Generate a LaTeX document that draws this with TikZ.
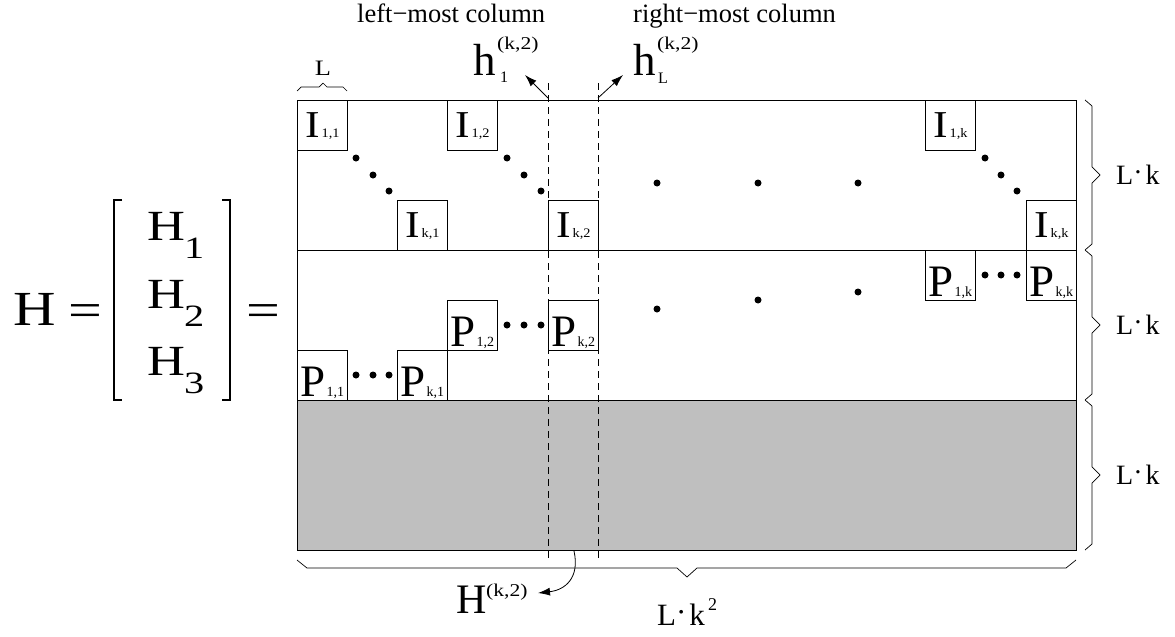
\documentclass[tikz,border=0pt]{standalone}
\usepackage{fontspec}
\setmainfont{Liberation Serif}
\usepackage{graphicx}
\usetikzlibrary{arrows.meta}
\newcommand{\fs}[1]{\fontsize{#1}{#1}\selectfont}
\newcommand{\sxx}[2]{\scalebox{#1}[1]{#2}}
\tikzset{
  box/.style={draw, line width=0.7pt, minimum width=50pt, minimum height=50pt, inner sep=0pt, anchor=north west},
  blkdot/.style={circle, fill, inner sep=0pt, minimum size=7pt},
  txt/.style={inner sep=0pt, anchor=base west},
  txtc/.style={inner sep=0pt, anchor=base},
  brc/.style={line width=0.7pt, line join=round},
  dline/.style={line width=0.7pt, dash pattern=on 7pt off 5pt},
  arr/.style={line width=0.8pt, -{Latex[length=12pt,width=8pt]}},
}
\newcommand{\Ibox}[4]{%
  \node[box] (#1) at (#2,#3) {};
  \node[txtc] (#1t) at ([yshift=13pt]#1.south) {\sxx{1.15}{\fs{38}I}\hspace{2pt}\sxx{1.1}{\fs{13}#4}};}
\newcommand{\Pbox}[4]{%
  \node[box] (#1) at (#2,#3) {};
  \node[txtc] (#1t) at ([yshift=4pt]#1.south) {{\fs{45}P}\hspace{1pt}{\fs{14}#4}};}
\newcommand{\Lk}{L\raisebox{3pt}{·}\hspace{3pt}k}
\begin{document}
\begin{tikzpicture}[x=1pt,y=-1pt]
\useasboundingbox (0,0) rectangle (1175,637);
% main matrix
\fill[black!25] (297,400) rectangle (1076,550);
\draw[line width=0.8pt] (297,100) rectangle (1076,550);
\draw[line width=0.8pt] (297,250) -- (1076,250);
\draw[line width=0.8pt] (297,400) -- (1076,400);
% I blocks
\Ibox{I11}{297}{100}{1,1}
\Ibox{Ik1}{397}{200}{k,1}
\Ibox{I12}{447}{100}{1,2}
\Ibox{Ik2}{548}{200}{k,2}
\Ibox{I1k}{925}{100}{1,k}
\Ibox{Ikk}{1026}{200}{k,k}
% P blocks
\Pbox{P11}{297}{350}{1,1}
\Pbox{Pk1}{397}{350}{k,1}
\Pbox{P12}{447}{300}{1,2}
\Pbox{Pk2}{548}{300}{k,2}
\Pbox{P1k}{925}{250}{1,k}
\Pbox{Pkk}{1026}{250}{k,k}
% dots
\foreach \x/\y [count=\i] in {356/158,373/175,389/191, 507/158,524/175,541/191, 985/158,1001/175,1017/191,
  657/183,758/183,858/183, 657/309,758/300,858/292,
  356/375,373/375,389/375, 507/325,524/325,541/325, 985/275,1001/275,1017/275}
  \node[blkdot] (d\i) at (\x,\y) {};
% dashed column lines
\coordinate (cl1) at (548,83); \coordinate (cl2) at (548,558);
\coordinate (cr1) at (598,83); \coordinate (cr2) at (598,558);
\draw[dline] (cl1) -- (cl2);
\draw[dline] (cr1) -- (cr2);
% top labels
\node[txt] (lmc) at (357,23) {\fs{26.5}left−most column};
\node[txt] (rmc) at (633,23) {\fs{26.5}right−most column};
\node[txt] (h1) at (473,75) {\fs{45}h};
\node[txt] (h1s) at (500,82) {\fs{16}1};
\node[txt] (h1p) at (497,49) {\sxx{1.2}{\fs{18}(k,2)}};
\node[txt] (hL) at (633,75) {\fs{45}h};
\node[txt] (hLs) at (658,83) {\fs{16}L};
\node[txt] (hLp) at (657,49) {\sxx{1.2}{\fs{18}(k,2)}};
\coordinate (a1s) at (548,98); \coordinate (a1e) at (525,75);
\coordinate (a2s) at (598,98); \coordinate (a2e) at (623,75);
\draw[arr] (a1s) -- (a1e);
\draw[arr] (a2s) -- (a2e);
% top L brace
\draw[brc] (297,91) -- (301,87) -- (319,87) -- (323,83) -- (327,87) -- (343,87) -- (347,91);
\node[txtc] (Ltop) at (323,75) {\sxx{1.2}{\fs{22}L}};
% right braces
\foreach \ya/\yb [count=\i] in {100/250, 250/400, 400/550}{
  \pgfmathsetmacro{\ym}{(\ya+\yb)/2}
  \draw[brc] (1085,\ya) -- (1092,\ya+6) -- (1092,\ym-8) -- (1100,\ym) -- (1092,\ym+8) -- (1092,\yb-6) -- (1085,\yb);
  \node[txt] (Lk\i) at (1116,\ym+9) {\fs{28}\Lk};
}
% bottom brace
\draw[brc] (297,560) -- (307,568) -- (677,568) -- (687,577) -- (697,568) -- (1066,568) -- (1076,560);
\node[txt] (Lk2) at (657,625) {\fs{31}\Lk};
\node[txt] (Lk2p) at (708,610) {\fs{18}2};
% H^(k,2)
\node[txt] (Hk) at (456,613) {\fs{42}H};
\node[txt] (Hkp) at (486,596) {\sxx{1.2}{\fs{18}(k,2)}};
\coordinate (cs) at (574,551); \coordinate (ce) at (538,593);
\draw[arr] (cs) .. controls (580,578) and (565,590) .. (ce);
% left equation
\node[txt] (H) at (13,325) {\sxx{1.2}{\fs{49}H}};
\node[txt] (eq1) at (68,326) {\sxx{1.25}{\fs{48}=}};
\draw[line width=1.5pt] (122,200) -- (114,200) -- (114,400) -- (122,400);
\draw[line width=1.5pt] (222,200) -- (230,200) -- (230,400) -- (222,400);
\foreach \b/\s [count=\i] in {240/1, 308/2, 375/3}{
  \node[txt] (Hr\i) at (147,\b) {\sxx{1.22}{\fs{43}H}};
  \node[txt] (Hs\i) at (184,\b+18) {\sxx{1.3}{\fs{31}\s}};
}
\node[txt] (eq2) at (246,326) {\sxx{1.25}{\fs{48}=}};
\end{tikzpicture}
\end{document}
